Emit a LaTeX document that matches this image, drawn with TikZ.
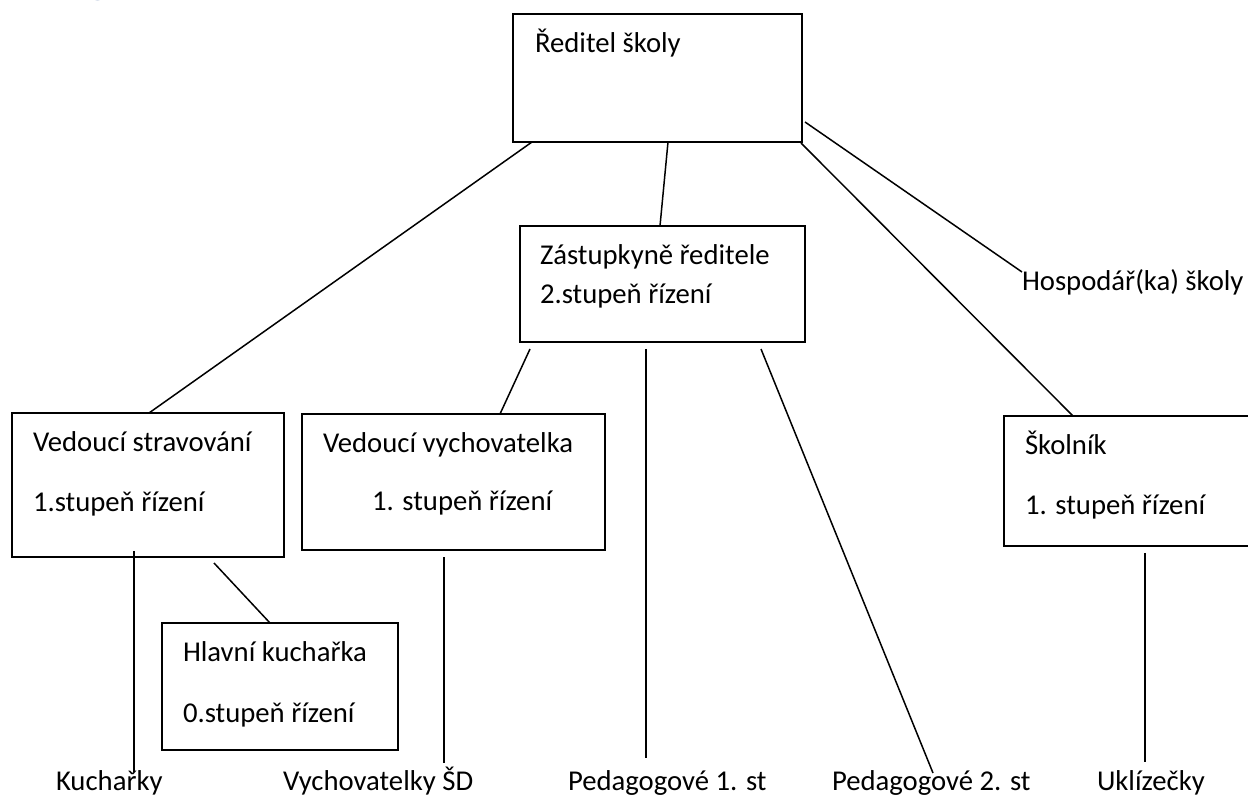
\documentclass[tikz,border=0pt]{standalone}
\usepackage{fontspec}
\setmainfont{Carlito}
\usetikzlibrary{calc}
\definecolor{headblue}{HTML}{2F5496}
\tikzset{
  box/.style={draw=black, line width=1pt, rectangle, inner sep=0pt, outer sep=0pt, anchor=north west},
  txt/.style={anchor=base west, inner sep=0pt, outer sep=0pt, font=\fontsize{14.35pt}{17pt}\selectfont},
  conn/.style={draw=black, line width=0.75pt},
}
\begin{document}
\begin{tikzpicture}[x=0.5pt, y=-0.5pt]
\useasboundingbox (0,0) rectangle (1248,796);
% heading fragment (only the descender of the g shows)
\node[anchor=base west, inner sep=0pt, text=headblue, font=\fontsize{20.9pt}{24pt}\selectfont] (hd) at (88,-6) {g};
% boxes
\node[box, minimum width=144.5pt, minimum height=64pt] (red) at (513,14) {};
\node[box, minimum width=142.5pt, minimum height=58pt] (zast) at (520,226) {};
\node[box, minimum width=136pt, minimum height=72pt] (vs) at (12,413) {};
\node[box, minimum width=151.5pt, minimum height=68pt] (vv) at (302,414) {};
\node[box, minimum width=135pt, minimum height=65pt] (sk) at (1004,416) {};
\node[box, minimum width=118pt, minimum height=63.5pt] (hk) at (162,623) {};
% texts in boxes
\node[txt] (tred) at (535,53) {Ředitel školy};
\node[txt] (tz1) at (540,265) {Zástupkyně ředitele};
\node[txt] (tz2) at (540,304) {2.stupeň řízení};
\node[txt] (tvs1) at (33,452) {Vedoucí stravování};
\node[txt] (tvs2) at (33,512) {1.stupeň řízení};
\node[txt] (tvv1) at (323,453) {Vedoucí vychovatelka};
\node[txt] (tvv2) at (372,510) {1. stupeň řízení};
\node[txt] (tsk1) at (1025,455) {Školník};
\node[txt] (tsk2) at (1025,515) {1. stupeň řízení};
\node[txt] (thk1) at (183,661) {Hlavní kuchařka};
\node[txt] (thk2) at (183,722) {0.stupeň řízení};
% free labels
\node[txt] (hosp) at (1022,291) {Hospodář(ka) školy};
\node[txt] (kuch) at (56,790) {Kuchařky};
\node[txt] (vsd) at (283,790) {Vychovatelky ŠD};
\node[txt] (p1) at (568,790) {Pedagogové 1. st};
\node[txt] (p2) at (832,790) {Pedagogové 2. st};
\node[txt] (ukl) at (1097,790) {Uklízečky};
% connectors
\draw[conn] ($(red.south west)+(19,0)$) -- ($(vs.north west)+(137,0)$);
\draw[conn] ($(red.south west)+(155,0)$) -- ($(zast.north west)+(140,0)$);
\draw[conn] ($(red.south east)+(-1,1)$) -- ($(sk.north west)+(69,0)$);
\draw[conn] ($(red.south east)+(3,-20)$) -- ($(hosp.base west)+(0,-19)$);
\draw[conn] ($(zast.south west)+(10,7)$) -- ($(vv.north west)+(198,0)$);
\draw[conn] ($(zast.south west)+(126,7)$) -- ($(p1.base west)+(78,-32)$);
\draw[conn] ($(zast.south west)+(241,7)$) -- ($(p2.base west)+(101,-17)$);
\draw[conn] ($(vs.south west)+(122,-6)$) -- ($(kuch.base west)+(78,-18)$);
\draw[conn] ($(vs.south west)+(202,6)$) -- ($(hk.north west)+(108,0)$);
\draw[conn] ($(vv.south west)+(142,7)$) -- ($(vsd.base west)+(161,-27)$);
\draw[conn] ($(sk.south west)+(141,7)$) -- ($(ukl.base west)+(48,-28)$);
\end{tikzpicture}
\end{document}
